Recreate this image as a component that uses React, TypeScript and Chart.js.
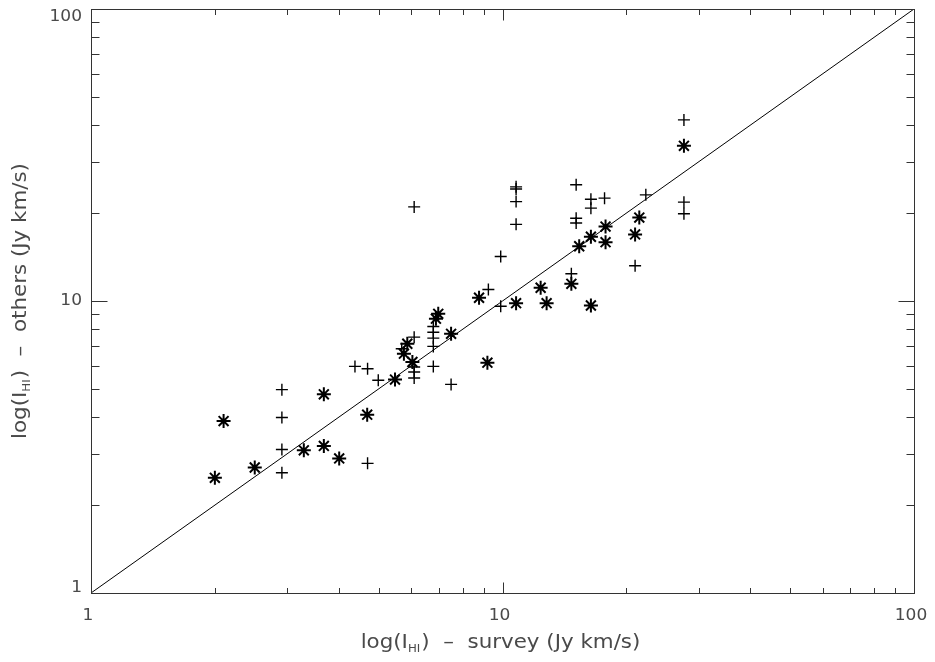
import React, { useEffect, useRef } from "react";
import { Chart, registerables } from "chart.js";

Chart.register(...registerables);

// Asterisk points (survey, others)
const starX = [2.0, 2.1, 2.5, 3.29, 3.68, 3.68, 4.01, 4.69, 5.48, 5.87, 5.76, 6.04, 6.98, 6.89, 7.5, 8.77, 9.19, 10.79, 12.38, 12.8, 14.7, 15.36, 16.4, 17.8, 17.8, 16.4, 21.0, 21.5, 27.6];
const starY = [2.48, 3.88, 2.69, 3.08, 4.79, 3.19, 2.89, 4.08, 5.38, 7.14, 6.6, 6.18, 9.04, 8.7, 7.72, 10.26, 6.15, 9.83, 11.1, 9.83, 11.45, 15.4, 16.6, 17.98, 15.9, 9.65, 16.9, 19.3, 34.0];

// Plus points (survey, others)
const crossX = [2.91, 2.91, 2.91, 2.91, 4.38, 4.7, 4.99, 4.7, 6.1, 10.79, 10.79, 10.79, 10.79, 15.1, 15.1, 15.1, 9.9, 14.7, 9.9, 9.24, 7.5, 6.79, 6.79, 6.79, 6.79, 6.79, 6.1, 5.69, 6.1, 6.1, 6.1, 27.6, 27.6, 27.6, 22.3, 21.0, 16.4, 16.4, 17.7];
const crossY = [4.97, 3.99, 3.1, 2.58, 5.97, 5.86, 5.35, 2.78, 21.0, 24.6, 24.2, 21.9, 18.3, 19.2, 18.5, 25.0, 14.2, 12.4, 9.6, 10.95, 5.18, 8.18, 7.82, 7.46, 6.99, 5.97, 7.52, 6.86, 5.94, 5.71, 5.45, 41.7, 21.8, 19.9, 23.1, 13.2, 22.3, 20.8, 22.5];

// One-to-one line
const lineX = [1, 100];
const lineY = [1, 100];

// Axis ticks
const majorTicks = [1, 10, 100];
const tickLabels = ["1", "10", "100"];
const minorTicks = [2, 3, 4, 5, 6, 7, 8, 9, 20, 30, 40, 50, 60, 70, 80, 90];

const xTitle = ["log(I", "HI", ")  \u2013  survey (Jy km/s)"];
const yTitle = ["log(I", "HI", ")  \u2013  others (Jy km/s)"];

const FONT = "'DejaVu Sans', sans-serif";
const TEXT_COLOR = "#4a4a4a";

function drawStretched(ctx: CanvasRenderingContext2D, text: string, x: number, y: number, sx: number) {
  ctx.save();
  ctx.translate(x, y);
  ctx.scale(sx, 1);
  ctx.fillText(text, 0, 0);
  ctx.restore();
}

function drawTitle(ctx: CanvasRenderingContext2D, parts: string[], sx: number) {
  // draws centered at origin, baseline y=0
  const mainFont = `20px ${FONT}`;
  const subFont = `11px ${FONT}`;
  ctx.font = mainFont;
  const w0 = ctx.measureText(parts[0]).width * sx;
  const w2 = ctx.measureText(parts[2]).width * sx;
  ctx.font = subFont;
  const w1 = ctx.measureText(parts[1]).width * sx + 1;
  const total = w0 + w1 + w2;
  let cx = -total / 2;
  ctx.textAlign = "left";
  ctx.textBaseline = "alphabetic";
  ctx.font = mainFont;
  drawStretched(ctx, parts[0], cx, 0, sx);
  cx += w0;
  ctx.font = subFont;
  drawStretched(ctx, parts[1], cx, 4, sx);
  cx += w1;
  ctx.font = mainFont;
  drawStretched(ctx, parts[2], cx, 0, sx);
}

const framePlugin = {
  id: "idlFrame",
  afterDraw(chart: any) {
    const ctx: CanvasRenderingContext2D = chart.ctx;
    const { left, right, top, bottom } = chart.chartArea;
    const xs = chart.scales.x;
    const ys = chart.scales.y;
    ctx.save();
    ctx.strokeStyle = "#333";
    ctx.lineWidth = 1;
    ctx.strokeRect(left + 0.5, top + 0.5, right - left, bottom - top);

    const xMajor = 11, xMinor = 5.5, yMajor = 16, yMinor = 8;
    ctx.beginPath();
    const xTick = (v: number, len: number) => {
      const px = Math.round(xs.getPixelForValue(v)) + 0.5;
      ctx.moveTo(px, bottom + 0.5);
      ctx.lineTo(px, bottom + 0.5 - len);
      ctx.moveTo(px, top + 0.5);
      ctx.lineTo(px, top + 0.5 + len);
    };
    const yTick = (v: number, len: number) => {
      const py = Math.round(ys.getPixelForValue(v)) + 0.5;
      ctx.moveTo(left + 0.5, py);
      ctx.lineTo(left + 0.5 + len, py);
      ctx.moveTo(right + 0.5, py);
      ctx.lineTo(right + 0.5 - len, py);
    };
    majorTicks.forEach((v) => { xTick(v, xMajor); yTick(v, yMajor); });
    minorTicks.forEach((v) => { xTick(v, xMinor); yTick(v, yMinor); });
    ctx.stroke();

    // tick labels
    ctx.fillStyle = TEXT_COLOR;
    ctx.font = `15.5px ${FONT}`;
    ctx.textBaseline = "middle";
    majorTicks.forEach((v, i) => {
      const label = tickLabels[i];
      // y-axis labels
      const py = Math.min(Math.max(ys.getPixelForValue(v), top + 8), bottom - 5);
      const w = ctx.measureText(label).width * 1.1;
      ctx.textAlign = "left";
      drawStretched(ctx, label, left - 9 - w, py, 1.1);
      // x-axis labels
      const px = xs.getPixelForValue(v) - 3;
      drawStretched(ctx, label, px - w / 2, bottom + 23, 1.1);
    });

    // axis titles
    ctx.save();
    ctx.translate((left + right) / 2 - 2, bottom + 55);
    drawTitle(ctx, xTitle, 1.07);
    ctx.restore();

    ctx.save();
    ctx.translate(26, (top + bottom) / 2);
    ctx.rotate(-Math.PI / 2);
    drawTitle(ctx, yTitle, 1.07);
    ctx.restore();

    ctx.restore();
  },
};

export default function App() {
  const canvasRef = useRef<HTMLCanvasElement | null>(null);

  useEffect(() => {
    const canvas = canvasRef.current;
    if (!canvas) return;
    const chart = new Chart(canvas, {
      type: "scatter",
      data: {
        datasets: [
          {
            type: "line",
            label: "one-to-one",
            data: lineX.map((x, i) => ({ x, y: lineY[i] })),
            borderColor: "#000",
            borderWidth: 1,
            pointRadius: 0,
            fill: false,
          } as any,
          {
            label: "others",
            data: crossX.map((x, i) => ({ x, y: crossY[i] })),
            pointStyle: "cross",
            pointRadius: 6,
            pointBorderWidth: 1.4,
            borderColor: "#000",
            backgroundColor: "#000",
          },
          {
            label: "survey",
            data: starX.map((x, i) => ({ x, y: starY[i] })),
            pointStyle: "star",
            pointRadius: 7,
            pointBorderWidth: 2,
            borderColor: "#000",
            backgroundColor: "#000",
          },
        ],
      },
      options: {
        animation: false,
        responsive: false,
        devicePixelRatio: 1,
        layout: { padding: { top: 8, right: 21, left: 0, bottom: 0 } },
        plugins: { legend: { display: false }, tooltip: { enabled: false } },
        scales: {
          x: {
            type: "logarithmic",
            min: 1,
            max: 100,
            grid: { display: false },
            border: { display: false },
            ticks: { display: false },
            afterFit: (s: any) => { s.height = 69; },
          },
          y: {
            type: "logarithmic",
            min: 1,
            max: 100,
            grid: { display: false },
            border: { display: false },
            ticks: { display: false },
            afterFit: (s: any) => { s.width = 91; },
          },
        },
      },
      plugins: [framePlugin],
    });
    return () => chart.destroy();
  }, []);

  return (
    <div style={{ position: "absolute", left: 0, top: 0, width: 935, height: 662, background: "#fff" }}>
      <canvas ref={canvasRef} width={935} height={662} style={{ width: 935, height: 662, display: "block" }} />
    </div>
  );
}
